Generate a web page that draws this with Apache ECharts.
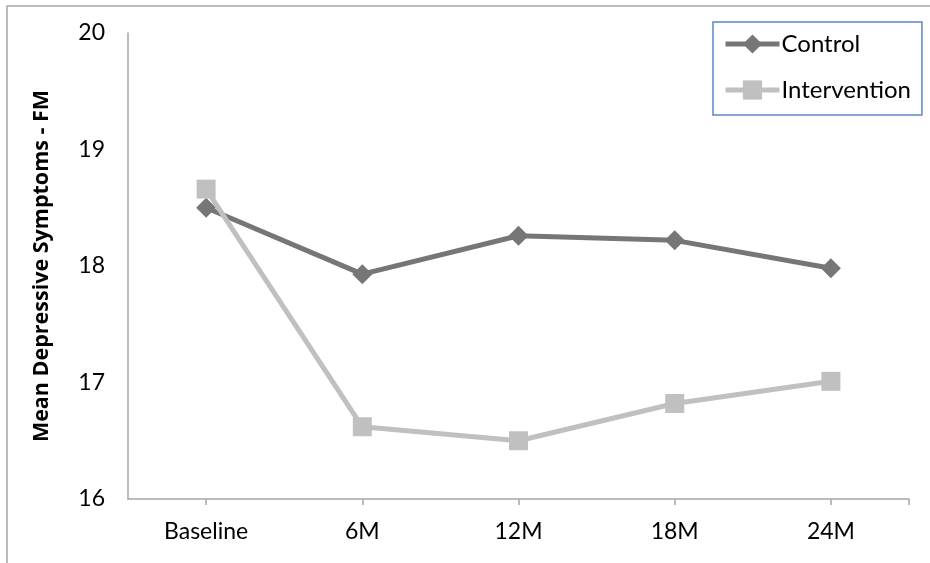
<!DOCTYPE html>
<html>
<head>
<meta charset="utf-8">
<script src="https://cdn.jsdelivr.net/npm/echarts@6/dist/echarts.min.js"></script>
<style>
  html, body { margin: 0; padding: 0; background: #fff; }
  #chart { width: 930px; height: 563px; }
</style>
</head>
<body>
<div id="chart"></div>
<script>
// Follow-up time points
const timepoints = ['Baseline', '6M', '12M', '18M', '24M'];
// Mean depressive symptom scores per group
const controlValues = [18.50, 17.93, 18.26, 18.22, 17.98];
const interventionValues = [18.66, 16.62, 16.50, 16.82, 17.01];
// Y axis range
const yMin = 16, yMax = 20, yStep = 1;

const FONT = 'Lato';
const chart = echarts.init(document.getElementById('chart'));

chart.setOption({
  animation: false,
  backgroundColor: '#fff',
  textStyle: { fontFamily: FONT },
  graphic: [{
    // outer frame (top and left edges visible)
    type: 'rect',
    shape: { x: 7, y: 6, width: 1200, height: 1200 },
    style: { fill: 'none', stroke: '#a6a6a6', lineWidth: 1.5 },
    silent: true
  }],
  grid: { left: 128, top: 33, right: 21, bottom: 64, containLabel: false },
  legend: {
    orient: 'vertical',
    left: 713,
    top: 22,
    padding: [10, 11, 13, 10],
    itemGap: 22,
    itemWidth: 54,
    itemHeight: 24,
    borderColor: '#5b87c8',
    borderWidth: 1.5,
    backgroundColor: '#fff',
    lineStyle: { width: 5 },
    textStyle: { fontFamily: FONT, fontSize: 24, color: '#000', padding: [0, 0, 0, -3] },
    data: ['Control', 'Intervention']
  },
  xAxis: [{
    type: 'category',
    data: timepoints,
    boundaryGap: true,
    axisLine: { lineStyle: { color: '#a6a6a6', width: 1.5 } },
    axisTick: { show: true, alignWithLabel: true, length: 6, lineStyle: { color: '#a6a6a6', width: 1.5 } },
    axisLabel: { fontFamily: FONT, fontSize: 23, color: '#000', margin: 21 },
    splitLine: { show: false }
  }, {
    // closing tick at the right end of the category axis
    type: 'value',
    position: 'bottom',
    min: 0,
    max: 1,
    axisLine: { show: false },
    axisLabel: { show: false },
    splitLine: { show: false },
    axisTick: { show: true, customValues: [1], length: 6, lineStyle: { color: '#a6a6a6', width: 1.5 } }
  }],
  yAxis: {
    type: 'value',
    min: yMin,
    max: yMax,
    interval: yStep,
    name: 'Mean Depressive Symptoms - FM',
    nameLocation: 'middle',
    nameGap: 75,
    nameTextStyle: { fontFamily: 'Open Sans', fontSize: 21.5, fontWeight: 'bold', color: '#000' },
    axisLine: { show: true, lineStyle: { color: '#a6a6a6', width: 1.5 } },
    axisTick: { show: false },
    axisLabel: { fontFamily: FONT, fontSize: 23, color: '#000', margin: 23 },
    splitLine: { show: false }
  },
  series: [{
    name: 'Control',
    type: 'line',
    data: controlValues,
    symbol: 'diamond',
    symbolSize: 20,
    lineStyle: { color: '#767676', width: 5 },
    itemStyle: { color: '#767676' },
    z: 2
  }, {
    name: 'Intervention',
    type: 'line',
    data: interventionValues,
    symbol: 'rect',
    symbolSize: 19,
    lineStyle: { color: '#c0c0c0', width: 5 },
    itemStyle: { color: '#c0c0c0' },
    z: 3
  }]
});
</script>
</body>
</html>
